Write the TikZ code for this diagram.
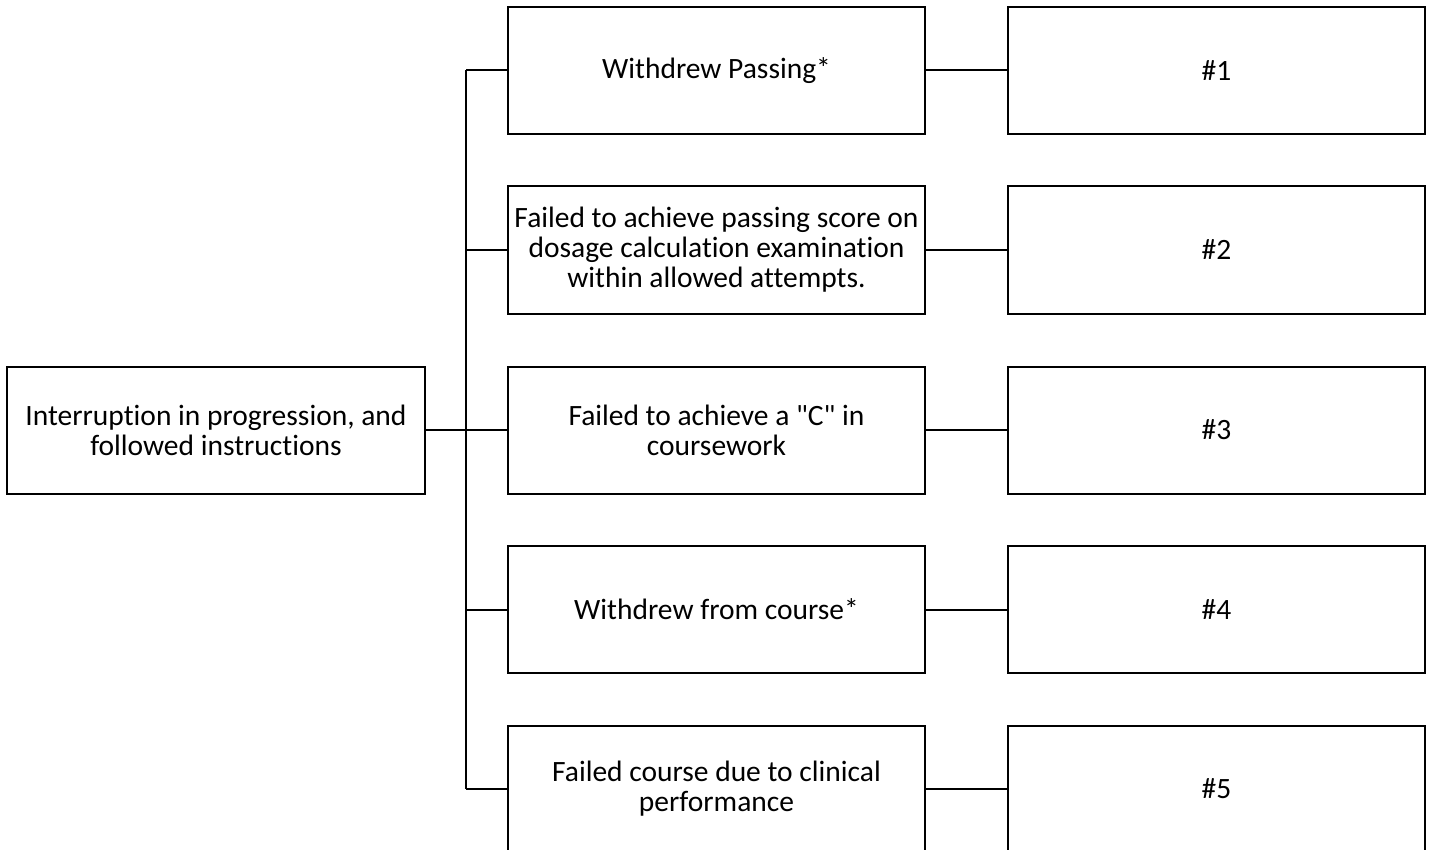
\documentclass[tikz,border=0pt]{standalone}
\usepackage{fontspec}
\setmainfont{Carlito}[Ligatures={TeX,NoCommon}]
\usetikzlibrary{positioning}

\begin{document}
\begin{tikzpicture}[x=1pt, y=-1pt,
    box/.style={draw, line width=2pt, rectangle, minimum width=417pt, minimum height=127pt, align=center, font=\fontsize{29.5}{30}\selectfont, inner sep=0pt},
    link/.style={line width=2pt}]
    \useasboundingbox (0,0) rectangle (1432,850);

    % left
    \node[box, minimum width=418pt] (start) at (216,430) {Interruption in progression, and\\followed instructions};

    % reasons
    \node[box] (reason1) at (716.5,70.5) {Withdrew Passing*};
    \node[box] (reason2) at (716.5,250) {Failed to achieve passing score on\\dosage calculation examination\\within allowed attempts.};
    \node[box] (reason3) at (716.5,430) {Failed to achieve a \textquotedbl C\textquotedbl{} in\\coursework};
    \node[box] (reason4) at (716.5,609.5) {Withdrew from course*};
    \node[box] (reason5) at (716.5,789) {Failed course due to clinical\\performance};

    % outcomes
    \node[box] (out1) at (1216.5,70.5) {\#1};
    \node[box] (out2) at (1216.5,250) {\#2};
    \node[box] (out3) at (1216.5,430) {\#3};
    \node[box] (out4) at (1216.5,609.5) {\#4};
    \node[box] (out5) at (1216.5,789) {\#5};

    \coordinate (trunk) at (466,430);
    \draw[link] (start.east) -- (trunk);
    \draw[link] (trunk |- reason1.west) -- (trunk |- reason5.west);
    \foreach \i in {1,...,5} {
      \draw[link] (trunk |- reason\i.west) -- (reason\i.west);
      \draw[link] (reason\i.east) -- (out\i.west);
    }
  \end{tikzpicture}
\end{document}
